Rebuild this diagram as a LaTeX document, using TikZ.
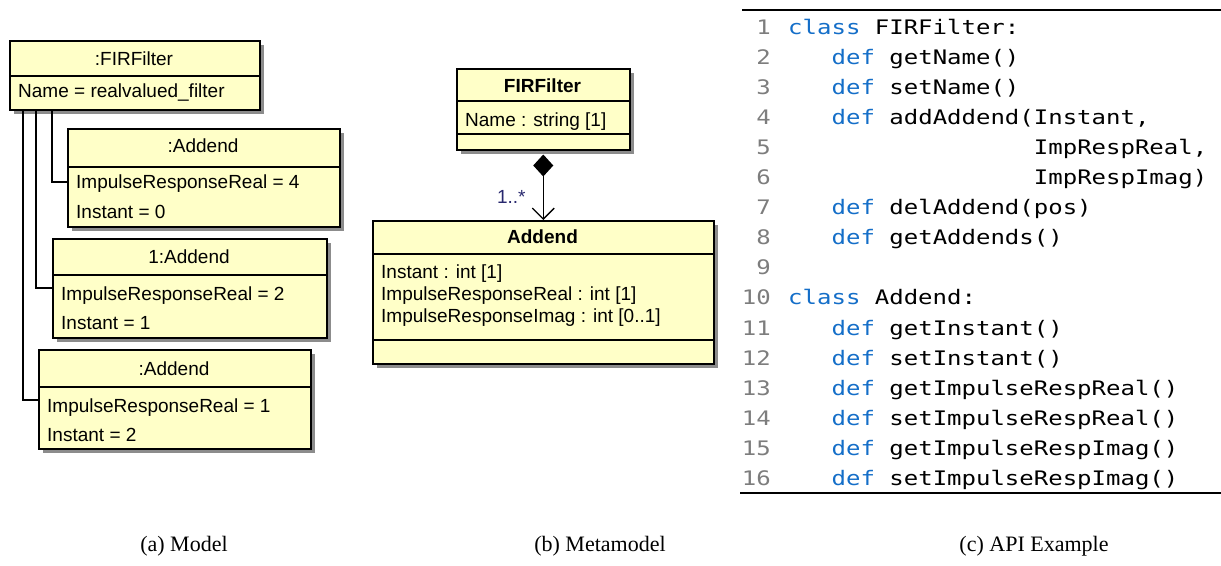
\documentclass[tikz,border=0pt]{standalone}
\usepackage{fontspec}
\setmainfont{Liberation Serif}
\newfontfamily\umlfont{Liberation Sans}
\newfontfamily\codefont[FakeStretch=1.2]{DejaVu Sans Mono}
\usetikzlibrary{arrows.meta,shadows,positioning}
\definecolor{umlfill}{RGB}{255,255,200}
\definecolor{kwblue}{RGB}{20,110,200}
\definecolor{lnumgray}{RGB}{125,125,125}
\definecolor{multblue}{RGB}{40,40,110}
\newcommand{\kw}[1]{\textcolor{kwblue}{#1}}

\begin{document}
\begin{tikzpicture}[x=1pt,y=-1pt,
    umlbox/.style={draw=black, line width=1.5pt, fill=umlfill, anchor=north west, inner sep=0pt,
      drop shadow={shadow xshift=4pt, shadow yshift=-4pt, fill=black!45, opacity=1}},
    umlsep/.style={line width=1.2pt},
    umltxt/.style={font=\umlfont\fontsize{19}{22}\selectfont, inner sep=0pt, anchor=base west},
    umltitle/.style={umltxt, anchor=base},
    link/.style={line width=1.5pt},
    code/.style={font=\codefont\fontsize{20}{24}\selectfont, inner sep=0pt, anchor=base west},
    lnum/.style={code, anchor=base east, text=lnumgray},
    caption/.style={font=\fontsize{22}{26}\selectfont, inner sep=0pt}]
\useasboundingbox (0,0) rectangle (1221,565);
% (a) model
\node[umlbox, minimum width=250pt, minimum height=69pt] (fir) at (9,40) {};
\draw[umlsep] ([yshift=-36pt]fir.north west) -- ([yshift=-36pt]fir.north east);
\node[umltitle] (firT) at (134,65) {:FIRFilter};
\node[umltxt] (firA) at (18,97) {Name = realvalued\_filter};

\node[umlbox, minimum width=272pt, minimum height=98pt] (a1) at (67,128) {};
\draw[umlsep] ([yshift=-39pt]a1.north west) -- ([yshift=-39pt]a1.north east);
\node[umltitle] (a1T) at (203,152) {:Addend};
\node[umltxt] (a1A) at (76,188) {ImpulseResponseReal = 4};
\node[umltxt] (a1B) at (76,218) {Instant = 0};

\node[umlbox, minimum width=274pt, minimum height=99pt] (a2) at (52,238) {};
\draw[umlsep] ([yshift=-37pt]a2.north west) -- ([yshift=-37pt]a2.north east);
\node[umltitle] (a2T) at (189,263) {1:Addend};
\node[umltxt] (a2A) at (61,300) {ImpulseResponseReal = 2};
\node[umltxt] (a2B) at (61,329) {Instant = 1};

\node[umlbox, minimum width=272pt, minimum height=99pt] (a3) at (38,349) {};
\draw[umlsep] ([yshift=-38pt]a3.north west) -- ([yshift=-38pt]a3.north east);
\node[umltitle] (a3T) at (174,375) {:Addend};
\node[umltxt] (a3A) at (47,412) {ImpulseResponseReal = 1};
\node[umltxt] (a3B) at (47,441) {Instant = 2};

\draw[link] (fir.south -| 52,0) |- (a1.west |- 0,182);
\draw[link] (fir.south -| 36,0) |- (a2.west |- 0,288);
\draw[link] (fir.south -| 23,0) |- (a3.west |- 0,400);

% (b) metamodel
\node[umlbox, minimum width=173pt, minimum height=81pt] (ffc) at (456,68) {};
\draw[umlsep] ([yshift=-33pt]ffc.north west) -- ([yshift=-33pt]ffc.north east);
\draw[umlsep] ([yshift=-66pt]ffc.north west) -- ([yshift=-66pt]ffc.north east);
\node[umltitle, font=\umlfont\bfseries\fontsize{19}{22}\selectfont] (ffcT) at (542.5,92) {FIRFilter};
\node[umltxt] (ffcA) at (465,126) {Name : string [1]};

\node[umlbox, minimum width=341pt, minimum height=143pt] (adc) at (372,220) {};
\draw[umlsep] ([yshift=-34pt]adc.north west) -- ([yshift=-34pt]adc.north east);
\draw[umlsep] ([yshift=-120pt]adc.north west) -- ([yshift=-120pt]adc.north east);
\node[umltitle, font=\umlfont\bfseries\fontsize{19}{22}\selectfont] (adcT) at (542.5,243) {Addend};
\node[umltxt] (adcA) at (381,278) {Instant : int [1]};
\node[umltxt] (adcB) at (381,300) {ImpulseResponseReal : int [1]};
\node[umltxt] (adcC) at (381,322) {ImpulseResponseImag : int [0..1]};

\draw[link, line width=1.3pt, {Diamond[length=22pt,width=20pt]}-{Straight Barb[length=11pt,width=22pt]}]
  ([yshift=-4pt]ffc.south) -- (adc.north)
  node[pos=0.65, left=17pt, inner sep=0pt, font=\umlfont\fontsize{19}{22}\selectfont, text=multblue] (mult) {1..*};

% (c) API example
\draw[line width=2pt] (742,10) -- (1221,10);
\draw[line width=2pt] (740,493) -- (1221,493);
\foreach \i in {1,...,16}
  \node[lnum] (n\i) at (771,{34+30.1*(\i-1)}) {\i};
\node[code] (c1) at (788,34) {\kw{class} FIRFilter:};
\node[code] (c2) at (831.4,64.1) {\kw{def} getName()};
\node[code] (c3) at (831.4,94.2) {\kw{def} setName()};
\node[code] (c4) at (831.4,124.3) {\kw{def} addAddend(Instant,};
\node[code] (c5) at (1033.7,154.4) {ImpRespReal,};
\node[code] (c6) at (1033.7,184.5) {ImpRespImag)};
\node[code] (c7) at (831.4,214.6) {\kw{def} delAddend(pos)};
\node[code] (c8) at (831.4,244.7) {\kw{def} getAddends()};
\node[code] (c10) at (788,304.9) {\kw{class} Addend:};
\node[code] (c11) at (831.4,335) {\kw{def} getInstant()};
\node[code] (c12) at (831.4,365.1) {\kw{def} setInstant()};
\node[code] (c13) at (831.4,395.2) {\kw{def} getImpulseRespReal()};
\node[code] (c14) at (831.4,425.3) {\kw{def} setImpulseRespReal()};
\node[code] (c15) at (831.4,455.4) {\kw{def} getImpulseRespImag()};
\node[code] (c16) at (831.4,485.5) {\kw{def} setImpulseRespImag()};

% captions
\node[caption] (capA) at (184,546) {(a) Model};
\node[caption] (capB) at (600,546) {(b) Metamodel};
\node[caption] (capC) at (1034,546) {(c) API Example};
\end{tikzpicture}
\end{document}
